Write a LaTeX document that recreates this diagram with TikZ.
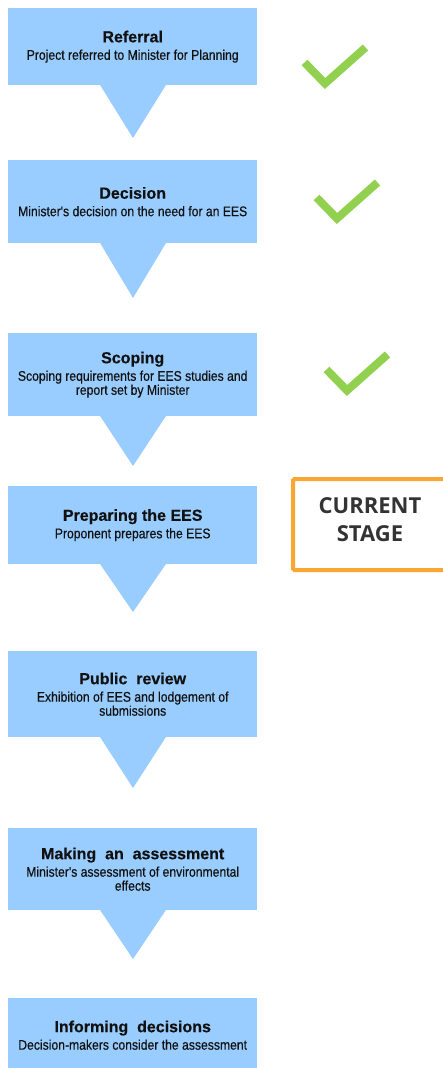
\documentclass[tikz,border=0pt]{standalone}
\usepackage{fontspec}
\usepackage{graphicx}
\setmainfont{Liberation Sans}
\newfontfamily\osans{Open Sans}
\newfontfamily\subfont[FakeBold=0.4]{Liberation Sans}
\usetikzlibrary{calc}
\definecolor{boxblue}{HTML}{99CCFF}
\definecolor{tickgreen}{HTML}{92D050}
\definecolor{curorange}{HTML}{F9A633}
\definecolor{txtdark}{HTML}{111111}
\definecolor{curtxt}{HTML}{333333}
\newcommand\subline[1]{\scalebox{0.87}[1]{#1}}
\newcommand\ttl{\fontsize{16}{16}\selectfont\bfseries}
\begin{document}
\begin{tikzpicture}[x=1pt,y=-1pt,
  stagebox/.style={rectangle, fill=boxblue, anchor=north west, minimum width=249pt,
    inner sep=0pt, align=center, text=txtdark, font=\subfont\fontsize{14}{14}\selectfont},
  pointer/.style={fill=boxblue},
  tick/.style={draw=tickgreen, line width=8pt, miter limit=10},
  curbox/.style={rectangle, draw=curorange, line width=4pt, rounded corners=1.5pt,
    minimum width=154pt, minimum height=91pt, anchor=north west, inner sep=0pt,
    align=center, text=curtxt, font=\osans\bfseries\fontsize{22}{28.4}\selectfont}]
\useasboundingbox (0,0) rectangle (442,1068);
\fill[white] (0,0) rectangle (442,1068);

\node[stagebox, minimum height=77pt] (b1) at (8,8)
  {{\ttl Referral}\\[3.5pt]\subline{Project referred to Minister for Planning}};
\node[stagebox, minimum height=83pt] (b2) at (8,160)
  {{\ttl Decision}\\[3.5pt]\subline{Minister's decision on the need for an EES}};
\node[stagebox, minimum height=83pt] (b3) at (8,333)
  {{\ttl Scoping}\\[3.5pt]\subline{Scoping requirements for EES studies and}\\\subline{report set by Minister}};
\node[stagebox, minimum height=78pt] (b4) at (8,486)
  {{\ttl Preparing the EES}\\[3.5pt]\subline{Proponent prepares the EES}};
\node[stagebox, minimum height=86pt] (b5) at (8,651)
  {{\ttl Public \ review}\\[3.5pt]\subline{Exhibition of EES and lodgement of}\\\subline{submissions}};
\node[stagebox, minimum height=82pt] (b6) at (8,828)
  {{\ttl Making \ an \ assessment}\\[3.5pt]\subline{Minister's assessment of environmental}\\\subline{effects}};
\node[stagebox, minimum height=74pt] (b7) at (8,998)
  {{\ttl Informing \ decisions}\\[3.5pt]\subline{Decision-makers consider the assessment}};

\coordinate (t1) at (133,138);
\coordinate (t2) at (133,298);
\coordinate (t3) at (133,466);
\coordinate (t4) at (133,612);
\coordinate (t5) at (133,788);
\coordinate (t6) at (133,959);
\foreach \i in {1,...,6}{
  \fill[pointer] ($(b\i.south west)+(92,-0.5)$) -- ($(b\i.south west)+(158,-0.5)$) -- (t\i) -- cycle;
}

\draw[tick] (304.5,62.5) -- (325,83.5) -- (365.5,47.5);
\draw[tick] (316.5,197.5) -- (337,218.5) -- (377.5,182.5);
\draw[tick] (326.5,369.5) -- (347,390.5) -- (387.5,354.5);

\node[curbox] (cur) at (291,477) {CURRENT\\STAGE\\[-18.4pt]\mbox{}};
\end{tikzpicture}
\end{document}
